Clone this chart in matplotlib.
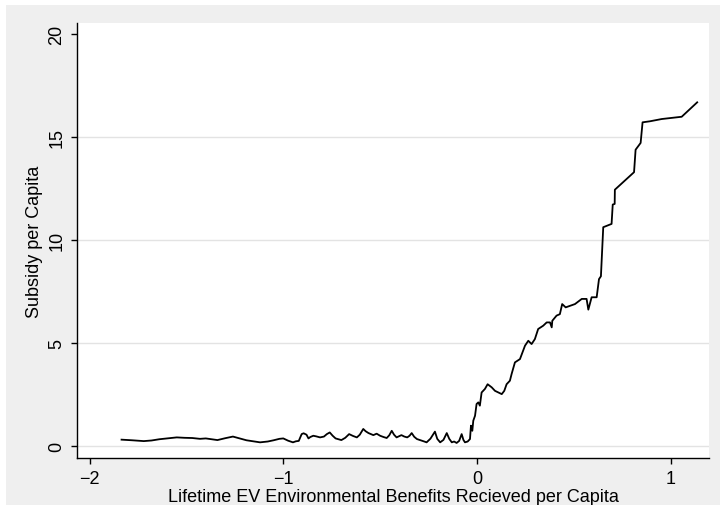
import matplotlib
matplotlib.use("Agg")
import matplotlib.pyplot as plt
from matplotlib.patches import Rectangle

plt.rcParams['font.family'] = ['Liberation Sans', 'DejaVu Sans']

# lifetime EV environmental benefits received per capita (x) vs subsidy per capita (y)
benefit = [
    -1.835, -1.78, -1.72, -1.68, -1.64, -1.59, -1.55, -1.51, -1.47, -1.43,
    -1.40, -1.37, -1.34, -1.30, -1.26, -1.22, -1.19, -1.15, -1.12, -1.08,
    -1.05, -1.02, -1.00, -0.975, -0.95, -0.935, -0.92, -0.905, -0.895, -0.88,
    -0.87, -0.86, -0.845, -0.83, -0.81, -0.79, -0.775, -0.76, -0.745, -0.73,
    -0.715, -0.70, -0.68, -0.66, -0.64, -0.62, -0.605, -0.587, -0.575, -0.56,
    -0.548, -0.535, -0.518, -0.50, -0.483, -0.466, -0.453, -0.44, -0.428, -0.415,
    -0.403, -0.39, -0.375, -0.36, -0.348, -0.337, -0.324, -0.31, -0.297, -0.285,
    -0.272, -0.26, -0.24, -0.217, -0.205, -0.19, -0.173, -0.156, -0.143, -0.13,
    -0.118, -0.105, -0.092, -0.079, -0.07, -0.062, -0.048, -0.036, -0.031, -0.024,
    -0.019, -0.010, -0.002, 0.007, 0.015, 0.024, 0.041, 0.055, 0.076, 0.093,
    0.110, 0.128, 0.141, 0.153, 0.170, 0.179, 0.196, 0.222, 0.248, 0.265,
    0.282, 0.299, 0.316, 0.342, 0.360, 0.377, 0.386, 0.389, 0.411, 0.428,
    0.440, 0.458, 0.506, 0.541, 0.566, 0.575, 0.592, 0.618, 0.630, 0.640,
    0.652, 0.695, 0.701, 0.711, 0.712, 0.811, 0.819, 0.845, 0.855, 0.893,
    0.954, 1.057, 1.137,
]
subsidy = [
    0.31, 0.28, 0.24, 0.27, 0.33, 0.38, 0.42, 0.40, 0.39, 0.35,
    0.37, 0.33, 0.29, 0.38, 0.46, 0.36, 0.28, 0.22, 0.18, 0.22,
    0.28, 0.35, 0.37, 0.26, 0.18, 0.23, 0.25, 0.58, 0.62, 0.55,
    0.37, 0.44, 0.50, 0.47, 0.42, 0.46, 0.58, 0.66, 0.50, 0.37,
    0.33, 0.29, 0.40, 0.58, 0.49, 0.42, 0.55, 0.83, 0.72, 0.63,
    0.58, 0.53, 0.60, 0.50, 0.44, 0.39, 0.52, 0.74, 0.55, 0.42,
    0.47, 0.53, 0.46, 0.42, 0.50, 0.63, 0.45, 0.34, 0.30, 0.26,
    0.22, 0.18, 0.36, 0.70, 0.35, 0.18, 0.30, 0.63, 0.35, 0.18,
    0.22, 0.15, 0.25, 0.58, 0.30, 0.18, 0.22, 0.34, 0.99, 0.74,
    1.23, 1.47, 2.04, 2.12, 1.96, 2.60, 2.77, 3.00, 2.85, 2.68,
    2.60, 2.52, 2.68, 3.00, 3.17, 3.50, 4.06, 4.22, 4.87, 5.11,
    4.95, 5.19, 5.68, 5.84, 6.00, 6.00, 5.76, 6.08, 6.33, 6.40,
    6.89, 6.73, 6.89, 7.14, 7.14, 6.62, 7.22, 7.22, 8.10, 8.24,
    10.62, 10.78, 11.72, 11.75, 12.44, 13.29, 14.38, 14.71, 15.71, 15.76,
    15.87, 15.98, 16.68,
]

yticks = [0, 5, 10, 15, 20]
xticks = [-2, -1, 0, 1]

fig = plt.figure(figsize=(7.2, 5.06), dpi=100, facecolor='white')
fig.patches.append(Rectangle((6 / 720, 0), 1, 1 - 6 / 506, transform=fig.transFigure,
                             facecolor='#efefef', edgecolor='none', zorder=-10))

ax = fig.add_axes([77 / 720, 47 / 506, 632 / 720, 435 / 506])
ax.set_facecolor('white')
ax.plot(benefit, subsidy, color='black', linewidth=1.3, solid_joinstyle='round')

ax.set_xlim(-2.065, 1.198)
ax.set_ylim(-0.58, 20.53)
ax.set_xticks(xticks)
ax.set_xticklabels(['\u22122', '\u22121', '0', '1'])
ax.set_yticks(yticks)
ax.set_yticklabels([str(t) for t in yticks], rotation=90, va='center')

for g in yticks[:-1]:
    ax.axhline(g, color='#e3e3e3', linewidth=1.0, zorder=0)

for side in ['top', 'right']:
    ax.spines[side].set_visible(False)
for side in ['left', 'bottom']:
    ax.spines[side].set_linewidth(1.0)
ax.tick_params(direction='out', length=4.3, width=1.0, labelsize=13, pad=4)

ax.set_xlabel('Lifetime EV Environmental Benefits Recieved per Capita', fontsize=13, labelpad=1)
ax.set_ylabel('Subsidy per Capita', fontsize=13, labelpad=4)

fig.savefig('out.png', dpi=100, facecolor=fig.get_facecolor())
